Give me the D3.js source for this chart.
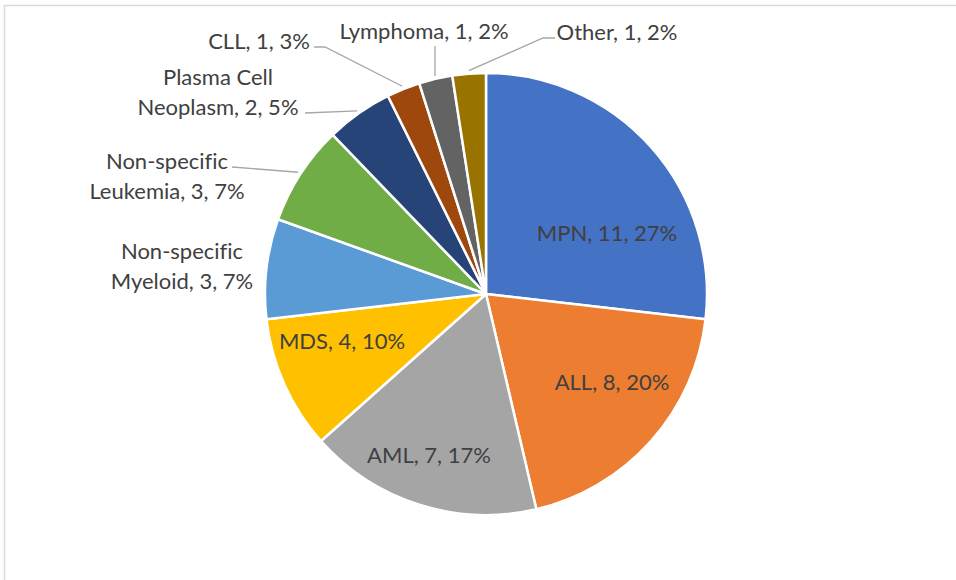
<!DOCTYPE html>
<html>
<head>
<meta charset="utf-8">
<script src="https://cdn.jsdelivr.net/npm/d3@7"></script>
<style>
  body { margin: 0; background: #fff; }
  svg { display: block; }
  .lbl { font-family: Lato, "Open Sans", sans-serif; font-size: 22px; fill: #404040;
         font-variant-ligatures: none; }
  .leader { stroke: #a6a6a6; stroke-width: 1.3; fill: none; }
</style>
</head>
<body>
<div id="vis"></div>
<script>
// frame constants
const FRAME_WIDTH = 956;
const FRAME_HEIGHT = 580;
const CENTER = {x: 486, y: 294};
const RADIUS = 221;

// chart data
const CATEGORIES = ["MPN", "ALL", "AML", "MDS", "Non-specific Myeloid", "Non-specific Leukemia",
                    "Plasma Cell Neoplasm", "CLL", "Lymphoma", "Other"];
const COUNTS = [11, 8, 7, 4, 3, 3, 2, 1, 1, 1];
const PERCENTS = [27, 20, 17, 10, 7, 7, 5, 3, 2, 2];
const COLORS = ["#4472C4", "#ED7D31", "#A5A5A5", "#FFC000", "#5B9BD5", "#70AD47",
                "#264478", "#9E480E", "#636363", "#997300"];

// label placement (relative to pie centre), wrap flag and leader start
const LABEL_DX = [121, 126, -57, -144, -304, -319, -268, -227, -62, 131];
const LABEL_DY = [-61, 88, 161, 47, -43, -133, -217, -253, -263, -262];
const LABEL_WRAP = [false, false, false, false, true, true, true, false, false, false];
const LEADERS = [null, null, null, null, null,
                 [[-254, -127]],
                 [[-181, -181]],
                 [[-172, -247], [-161, -247]],
                 [[-51, -248]],
                 [[69, -256], [57, -256]]];

const FRAME = d3.select("#vis")
                .append("svg")
                  .attr("width", FRAME_WIDTH)
                  .attr("height", FRAME_HEIGHT);

// chart area border (cropped on the right and bottom)
FRAME.append("rect")
      .attr("x", 4.5)
      .attr("y", 5.5)
      .attr("width", 1200)
      .attr("height", 1200)
      .attr("fill", "none")
      .attr("stroke", "#d9d9d9")
      .attr("stroke-width", 1.5);

const data = CATEGORIES.map((c, i) => ({name: c, value: COUNTS[i], pct: PERCENTS[i], i: i}));

const PIE = d3.pie().sort(null).value((d) => d.value);
const ARC = d3.arc().innerRadius(0).outerRadius(RADIUS);
const arcs = PIE(data);

const G = FRAME.append("g")
               .attr("transform", "translate(" + CENTER.x + "," + CENTER.y + ")");

// slices
G.selectAll(".slice")
  .data(arcs)
  .enter()
  .append("path")
    .attr("class", "slice")
    .attr("d", ARC)
    .attr("fill", (d) => COLORS[d.data.i])
    .attr("stroke", "#fff")
    .attr("stroke-width", 2.5)
    .attr("stroke-linejoin", "round");

// leader lines from label to the slice's outer edge
arcs.forEach((d) => {
  const pts = LEADERS[d.data.i];
  if (!pts) return;
  const mid = (d.startAngle + d.endAngle) / 2;
  const end = [Math.sin(mid) * (RADIUS + 3), -Math.cos(mid) * (RADIUS + 3)];
  G.append("path")
    .attr("class", "leader")
    .attr("d", d3.line()(pts.concat([end])));
});

// data labels
arcs.forEach((d) => {
  const i = d.data.i;
  const txt = G.append("text")
               .attr("class", "lbl")
               .attr("text-anchor", "middle")
               .attr("x", LABEL_DX[i])
               .attr("y", LABEL_DY[i]);
  let lines;
  if (LABEL_WRAP[i]) {
    const words = d.data.name.split(" ");
    const last = words.pop();
    lines = [words.join(" "), last + ", " + d.data.value + ", " + d.data.pct + "%"];
  } else {
    lines = [d.data.name + ", " + d.data.value + ", " + d.data.pct + "%"];
  }
  lines.forEach((l, k) => {
    txt.append("tspan")
       .attr("x", LABEL_DX[i])
       .attr("dy", k === 0 ? "0.36em" : 30)
       .text(l);
  });
});
</script>
</body>
</html>
